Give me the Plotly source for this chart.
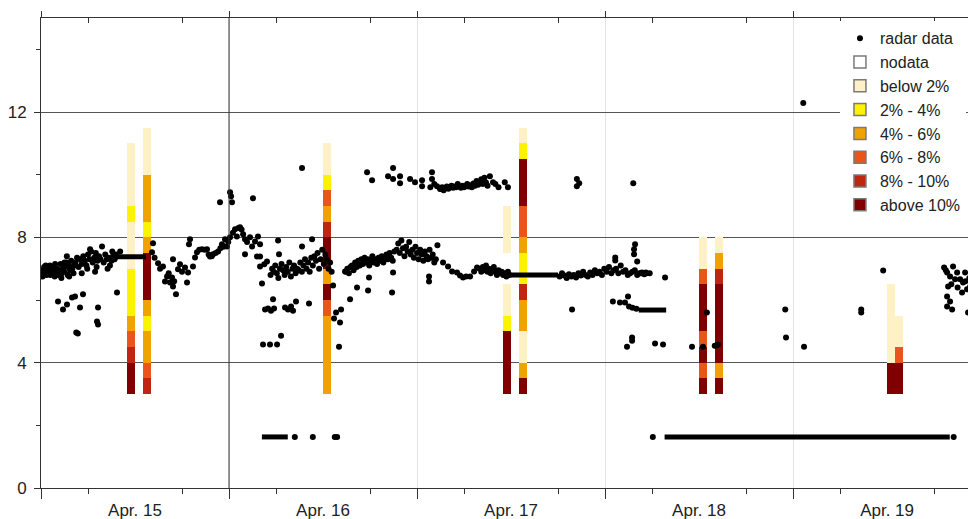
import plotly.graph_objects as go
import pandas as pd

T0 = pd.Timestamp("2010-04-15 00:00")

# ---------------- radar data (hours since Apr 15 00:00, value) ----------------
radar_hours = [
    0.1, 0.2, 0.25, 0.4, 0.55, 0.6, 0.7, 0.85, 1.0, 1.15, 1.2, 1.3, 1.45, 1.6, 1.75, 1.8, 1.9, 2.05,
    2.2, 2.35, 2.5, 2.6, 2.65, 2.8, 2.95, 3.0, 3.1, 3.25, 3.4, 3.55, 3.6, 3.7, 3.85, 4.0, 4.15, 4.2,
    2.17, 2.81, 3.32, 3.96, 4.34, 5.36, 4.98, 4.5, 4.7, 7.28, 7.15, 7.28, 9.7, 6.9, 5.2,
    4.4, 4.6, 4.8, 5.0, 5.2, 5.4, 5.6, 5.8, 5.9, 6.0, 6.2, 6.26, 6.4, 6.6, 6.8, 7.0, 7.1, 7.2, 7.4,
    7.6, 7.79, 8.0, 8.2, 8.4, 8.5, 8.6, 8.8, 9.0, 9.1, 9.2, 9.4, 9.6, 10.1, 3.3,
    14.3, 14.17, 14.5, 14.94, 15.2, 15.57, 15.83, 16.09, 16.3, 16.47, 16.72, 16.85, 16.85, 17.0,
    17.23, 17.49, 17.74, 18.0, 18.38, 18.64, 18.77, 18.89, 19.02, 19.4, 19.66, 19.91, 20.2, 20.55,
    20.9, 21.19, 21.4, 21.57, 21.8, 21.96, 22.3, 22.6, 22.85, 22.9, 23.1, 23.3, 23.49, 23.74, 23.9,
    24.13, 24.13, 24.26, 24.38, 24.5, 24.77, 25.0, 25.2, 25.4, 25.6, 25.8,
    26.04, 26.3, 26.68, 26.94, 27.32, 27.57, 27.7, 27.96, 27.96, 26.04, 27.06, 27.96, 28.21, 28.5,
    28.85, 28.6, 28.98, 29.36, 29.75, 29.62, 31.15, 31.53, 31.92, 32.17, 32.55, 34.21, 28.34, 29.23,
    30.13, 30.64, 30.26, 30.38, 33.32, 33.32, 34.6,
    29.3, 29.5, 29.7, 29.9, 30.1, 30.3, 30.5, 30.7, 30.9, 31.1, 31.3, 31.5, 31.7, 31.9, 32.1, 32.3,
    32.5, 32.7, 32.9, 33.1, 33.3, 33.5, 33.7, 33.9, 34.1, 34.3, 34.5, 34.7, 34.9, 35.1, 35.3, 35.5,
    35.7, 35.9, 36.1, 36.3, 36.5, 36.7, 36.9, 37.1,
    37.28, 37.66, 37.4, 38.17, 38.3, 38.04, 38.81, 39.45, 40.34, 41.75, 41.87, 44.81, 44.94,
    38.9, 39.1, 39.3, 39.5, 39.7, 39.9, 40.1, 40.3, 40.5, 40.7, 40.9, 41.1, 41.3, 41.5, 41.7, 41.9,
    42.1, 42.3, 42.5, 42.7, 42.9, 43.1, 43.3, 43.5, 43.7, 43.9, 44.1, 44.3, 44.5, 44.7, 44.9, 45.1,
    45.4, 45.6, 45.8, 46.0, 46.2, 46.4, 46.6, 46.8, 47.0, 47.2, 47.4, 47.6, 47.8, 48.0, 48.2, 48.4,
    48.6, 48.8, 49.0, 49.2, 49.4, 49.6, 49.8, 50.0, 50.2, 50.4, 50.6, 49.53, 49.53,
    51.32, 51.96, 52.47, 53.1, 53.49, 53.87, 54.26, 54.77, 55.28, 55.66,
    41.62, 42.26, 44.3, 44.94, 44.94, 45.83, 45.83, 47.11, 47.74, 48.64, 48.64, 49.91, 49.91, 50.55,
    50.94, 49.7, 50.2,
    51.0, 51.2, 51.4, 51.6, 51.8, 52.0, 52.2, 52.4, 52.6, 52.8, 53.0, 53.2, 53.4, 53.6, 53.8, 54.0,
    54.2, 54.4, 54.6, 54.8, 55.0, 55.2, 55.4, 55.6, 55.8, 56.0, 56.2, 56.4, 56.6, 56.8, 57.0,
    57.3, 57.7, 58.0, 58.4, 59.2, 59.6, 68.4, 68.4, 68.7, 75.6,
    56.0, 56.2, 56.4, 56.6, 56.8, 57.0, 57.2, 57.4, 57.6, 57.8, 58.0, 58.2, 58.4, 58.6, 58.8, 59.0,
    59.2, 59.4, 59.6, 59.8,
    66.2, 66.5, 66.8, 67.1, 67.4, 67.7, 68.0, 68.3, 68.6, 68.9, 69.2, 69.5, 69.8, 70.1, 70.4, 70.7,
    71.0, 71.3, 71.6, 71.9, 72.2, 72.5, 72.8, 73.1, 73.4, 73.7, 74.0, 74.3, 74.6, 74.9, 75.2, 75.5,
    75.8, 76.1, 76.4, 76.7, 77.0, 77.3,
    73.3, 73.3, 75.83, 75.7, 75.7, 76.1, 76.6, 77.2, 77.7, 79.66,
    67.79, 73.0, 73.9, 74.55, 74.93, 75.06, 75.5, 76.0, 74.8, 75.45, 75.45, 78.38, 79.4, 83.1, 84.5,
    85.0, 86.0, 86.4, 86.2,
    78.1, 32.4, 34.7, 37.5, 37.8,
    97.3, 95.0, 95.1, 97.4, 104.7, 104.7, 107.5, 116.5, 118.9,
    115.28, 115.66, 116.04, 116.42, 116.68, 115.79, 115.66, 116.04, 115.66, 116.3, 116.94, 117.32,
    117.7, 117.96, 118.21, 118.6, 118.98, 118.34, 118.85, 119.23, 117.57, 115.5, 116.2, 117.0, 118.0,
    118.5, 119.0,
]
radar_values = [
    6.95, 6.75, 6.85, 7.05, 6.9, 7.1, 6.8, 7.0, 6.9, 7.1, 6.8, 6.85, 6.95, 7.05, 6.75, 7.15, 6.9, 7.0,
    6.8, 6.95, 7.15, 6.7, 6.85, 7.0, 6.9, 7.2, 7.05, 7.2, 6.8, 7.1, 6.75, 6.95, 7.25, 7.0, 6.85, 7.1,
    5.95, 5.7, 5.86, 6.08, 6.11, 6.18, 5.76, 4.96, 4.93, 5.76, 5.31, 5.22, 6.24, 6.9, 6.85,
    7.2, 7.35, 7.05, 7.3, 7.15, 7.4, 7.25, 7.1, 7.0, 7.45, 7.3, 7.62, 7.55, 7.2, 7.35, 7.5, 7.05, 7.25, 7.4,
    7.3, 7.71, 7.2, 7.45, 7.3, 7.0, 7.35, 7.1, 7.25, 7.55, 7.4, 7.3, 7.45, 7.55, 7.4,
    7.81, 7.52, 7.35, 7.17, 7.0, 7.07, 6.59, 6.75, 6.85, 6.56, 6.72, 6.43, 7.3, 6.6,
    6.18, 6.98, 7.14, 6.9, 7.04, 6.56, 6.88, 7.78, 7.94, 7.07, 7.36, 7.52, 7.6, 7.62,
    7.6, 7.62, 7.45, 7.39, 7.4, 7.46, 7.5, 7.55, 9.12, 7.65, 7.78, 7.7, 7.94, 7.71, 7.85,
    8.0, 9.44, 9.31, 9.12, 8.15, 8.26, 8.03, 8.3, 8.32, 8.25, 8.1,
    7.94, 7.85, 8.0, 7.71, 7.87, 7.39, 8.03, 7.78, 7.39, 7.46, 9.25, 7.07, 6.53, 7.14,
    7.23, 5.7, 5.73, 5.66, 5.73, 6.02, 5.76, 5.7, 5.79, 5.66, 5.95, 5.89, 4.58, 4.58,
    4.58, 4.86, 7.9, 7.46, 10.21, 7.71, 7.94,
    6.8, 7.0, 6.9, 7.1, 6.85, 6.7, 7.0, 7.15, 6.95, 6.8, 7.05, 6.9, 7.2, 6.75, 7.0, 7.1,
    6.85, 7.0, 6.95, 7.2, 6.9, 7.1, 7.3, 7.0, 7.2, 6.9, 7.35, 7.1, 7.4, 7.25, 7.5, 7.0,
    7.3, 7.6, 7.15, 7.45, 7.3, 7.0, 7.2, 6.9,
    6.46, 5.6, 5.41, 5.28, 5.7, 4.51, 6.91, 6.02, 6.4, 6.3, 6.72, 6.24, 6.88,
    6.9, 7.0, 6.85, 7.05, 7.1, 6.95, 7.2, 7.05, 7.25, 7.1, 7.3, 7.15, 7.35, 7.2, 7.3, 7.1,
    7.25, 7.4, 7.2, 7.3, 7.15, 7.35, 7.25, 7.4, 7.2, 7.3, 7.45, 7.3, 7.5, 7.35, 7.25, 7.55,
    7.6, 7.8, 7.5, 7.9, 7.65, 7.4, 7.7, 7.55, 7.85, 7.45, 7.6, 7.35, 7.7, 7.5, 7.3, 7.6,
    7.45, 7.25, 7.55, 7.4, 7.3, 7.6, 7.35, 7.45, 7.2, 7.3, 7.75, 6.75, 6.59,
    7.2, 7.07, 6.91, 6.88, 6.78, 6.72, 6.75, 6.75, 6.91, 7.04,
    10.08, 9.82, 9.95, 10.21, 9.86, 9.95, 9.73, 9.86, 9.76, 9.82, 9.63, 10.08, 9.86, 9.63,
    9.54, 9.6, 9.7,
    9.55, 9.6, 9.5, 9.58, 9.62, 9.55, 9.6, 9.65, 9.58, 9.62, 9.6, 9.7, 9.62, 9.58, 9.65, 9.6,
    9.63, 9.7, 9.62, 9.66, 9.6, 9.72, 9.65, 9.8, 9.68, 9.75, 9.85, 9.7, 9.9, 9.75, 9.65,
    9.95, 9.76, 9.7, 9.6, 9.76, 9.6, 9.86, 9.63, 9.73, 9.73,
    7.0, 6.9, 7.05, 6.95, 7.1, 6.9, 7.0, 6.85, 6.95, 7.05, 6.9, 6.8, 6.95, 6.85, 6.9, 6.8,
    6.85, 6.75, 6.9, 6.8,
    6.75, 6.85, 6.78, 6.7, 6.82, 6.75, 6.8, 6.72, 6.85, 6.78, 6.9, 6.8, 6.75, 6.88, 6.8, 6.95,
    6.85, 6.9, 6.8, 7.0, 6.9, 7.05, 6.85, 6.95, 7.0, 6.85, 7.1, 6.9, 6.95, 6.8, 6.85, 6.9,
    6.95, 6.8, 6.85, 6.88, 6.82, 6.85,
    7.36, 7.26, 7.78, 7.62, 7.46, 7.23, 6.85, 6.88, 6.85, 6.72,
    5.7, 5.95, 5.92, 5.92, 6.11, 5.79, 5.75, 5.72, 4.51, 4.8, 4.7, 4.61, 4.58, 4.51, 4.51,
    5.6, 4.54, 4.58, 4.55,
    1.63, 1.63, 1.63, 1.63, 1.63,
    12.29, 5.7, 4.8, 4.51, 5.7, 5.6, 6.94, 1.63, 4.51,
    7.04, 6.88, 6.75, 7.07, 6.66, 6.43, 6.11, 5.95, 5.79, 5.7, 6.88, 6.66,
    6.56, 6.88, 6.34, 6.43, 6.66, 5.6, 5.7, 6.11, 6.24, 6.95, 6.5, 6.4, 6.6,
    6.7, 6.3,
]

# runs of identical consecutive radar values (start hour, end hour, value)
run_start = [9.6, 28.2, 60.0, 76.3, 79.6, 118.4]
run_end = [13.4, 31.5, 66.0, 79.8, 116.0, 119.5]
run_value = [7.38, 1.63, 6.8, 5.68, 1.63, 1.63]

# ---------------- hourly class columns ----------------
bar_hours = [11.5, 13.5, 36.5, 59.5, 61.5, 84.5, 86.5, 108.5, 109.5]
bar_base = 3.0
bin_size = 0.5
# class index per 0.5 bin from the base upward
bar_bins = [
    [6, 6, 5, 4, 3, 2, 2, 2, 1, 1, 1, 2, 1, 1, 1, 1],
    [5, 4, 3, 3, 2, 3, 6, 6, 6, 3, 2, 3, 3, 3, 1, 1, 1],
    [3, 3, 3, 3, 3, 4, 6, 3, 6, 6, 5, 3, 4, 2, 1, 1],
    [6, 6, 6, 6, 2, 1, 1, 0, 0, 1, 1, 1],
    [6, 3, 1, 1, 3, 3, 5, 2, 2, 3, 4, 4, 6, 6, 6, 2, 1],
    [6, 4, 6, 4, 6, 6, 6, 4, 1, 1],
    [6, 3, 6, 6, 6, 6, 6, 5, 3, 1],
    [6, 6, 1, 1, 1, 1, 1],
    [6, 6, 4, 1, 1],
]
class_names = ["nodata", "below 2%", "2% - 4%", "4% - 6%", "6% - 8%", "8% - 10%", "above 10%"]
class_colors = ["#FFFFFF", "#FFF1C6", "#FFF200", "#F2A200", "#E8561A", "#BE2612", "#7E0000"]

day_labels = ["Apr. 15", "Apr. 16", "Apr. 17", "Apr. 18", "Apr. 19"]
y_ticks = [0, 4, 8, 12]
y_minor = [2, 6, 10, 14]

FONT = "Liberation Sans, Arial, sans-serif"

def at(h):
    return T0 + pd.Timedelta(hours=h)

fig = go.Figure()

# class columns, merged runs of same class
segs = {k: dict(x=[], base=[], h=[]) for k in range(len(class_names))}
for hour, bins in zip(bar_hours, bar_bins):
    i = 0
    while i < len(bins):
        j = i
        while j < len(bins) and bins[j] == bins[i]:
            j += 1
        k = bins[i]
        segs[k]["x"].append(at(hour))
        segs[k]["base"].append(bar_base + i * bin_size)
        segs[k]["h"].append((j - i) * bin_size)
        i = j

for k, name in enumerate(class_names):
    s = segs[k]
    if s["x"]:
        fig.add_trace(go.Bar(
            x=s["x"], y=s["h"], base=s["base"], width=3600 * 1000,
            marker=dict(color=class_colors[k], line=dict(width=0)),
            showlegend=False, hoverinfo="skip",
        ))

# runs drawn as thick segments
rx, ry = [], []
for s, e, v in zip(run_start, run_end, run_value):
    rx += [at(s), at(e), None]
    ry += [v, v, None]
fig.add_trace(go.Scatter(x=rx, y=ry, mode="lines", line=dict(color="black", width=5),
                         showlegend=False, hoverinfo="skip"))

fig.add_trace(go.Scatter(
    x=[at(h) for h in radar_hours], y=radar_values, mode="markers",
    marker=dict(color="black", size=6), name="radar data", legendrank=1,
))

# legend entries for classes
for k, name in enumerate(class_names):
    fig.add_trace(go.Bar(
        x=[None], y=[None], name=name, legendrank=2 + k,
        marker=dict(color=class_colors[k], line=dict(color="#7a7a7a", width=1.5)),
    ))

day_starts = [at(24 * d) for d in range(len(day_labels))]
noons = [at(24 * d + 12) for d in range(len(day_labels))]
quarters = [at(24 * d + q) for d in range(len(day_labels)) for q in (6, 18)]
x_end = at(119.35)

fig.add_shape(type="line", xref="x", yref="paper", x0=day_starts[1], x1=day_starts[1],
              y0=0, y1=1.0, line=dict(color="#333333", width=1))

axis_font = dict(family=FONT, size=17, color="#222222")
# the page body adds an 8px margin, so the figure is 8px smaller and offset by that
fig.update_layout(
    width=968, height=511,
    margin=dict(l=33, r=0, t=10, b=31),
    paper_bgcolor="white", plot_bgcolor="white",
    barmode="overlay", bargap=0,
    font=dict(family=FONT, size=17, color="#222222"),
    xaxis=dict(
        type="date", range=[T0, x_end], automargin=False,
        tickmode="array", tickvals=noons, ticktext=day_labels, ticks="",
        showgrid=False, zeroline=False, tickfont=axis_font, ticklabelstandoff=7,
        showline=True, linecolor="#333333", linewidth=1,
        minor=dict(tickmode="array", tickvals=day_starts, ticks="outside", ticklen=10,
                   tickcolor="#333333", showgrid=True, gridcolor="#e4e4e4", gridwidth=1),
    ),
    xaxis2=dict(
        type="date", overlaying="x", matches="x", anchor="y", side="bottom", automargin=False,
        tickmode="array", tickvals=quarters, ticktext=[""] * len(quarters),
        ticks="outside", ticklen=5, tickcolor="#333333", showgrid=False,
        zeroline=False, showline=False,
    ),
    xaxis3=dict(
        type="date", overlaying="x", matches="x", anchor="y", side="top", automargin=False,
        tickmode="array", tickvals=day_starts, ticktext=[""] * len(day_starts),
        ticks="outside", ticklen=6, tickcolor="#333333", showgrid=False,
        zeroline=False, showline=True, linecolor="#333333", linewidth=1,
        minor=dict(tickmode="array", tickvals=quarters, ticks="inside", ticklen=5,
                   tickcolor="#333333", showgrid=False),
    ),
    yaxis=dict(
        range=[0, 15], automargin=False, tickmode="array", tickvals=y_ticks, ticks="outside",
        ticklen=6, tickcolor="#333333", showgrid=True, gridcolor="#555555", gridwidth=1,
        zeroline=False, showline=True, linecolor="#333333", linewidth=1,
        tickfont=axis_font, ticklabelstandoff=4,
        minor=dict(tickmode="array", tickvals=y_minor, ticks="outside", ticklen=4,
                   tickcolor="#333333", showgrid=False),
    ),
    legend=dict(
        x=0.8545, y=0.993, xanchor="left", yanchor="top",
        bgcolor="white", borderwidth=0, font=dict(family=FONT, size=16, color="#222222"),
        tracegroupgap=0, itemwidth=30,
    ),
)

# invisible helpers so the overlay axes are drawn
fig.add_trace(go.Scatter(x=[None], y=[None], xaxis="x2", showlegend=False, hoverinfo="skip"))
fig.add_trace(go.Scatter(x=[None], y=[None], xaxis="x3", showlegend=False, hoverinfo="skip"))

fig.write_html("out.html")
